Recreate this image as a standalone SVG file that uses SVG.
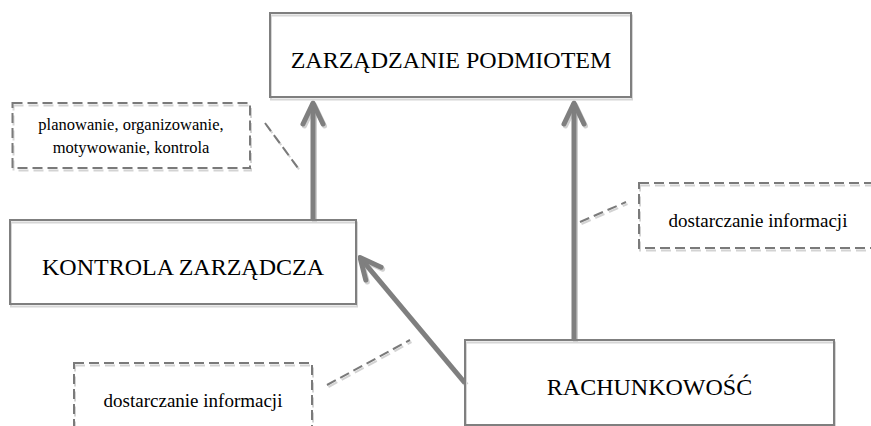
<svg xmlns="http://www.w3.org/2000/svg" width="871" height="426" viewBox="0 0 871 426">
<style>
.box{fill:none;stroke:#7f7f7f;stroke-width:2}
.boxsh{fill:none;stroke:#d6d6d6;stroke-width:2}
.note{fill:none;stroke:#7a7a7a;stroke-width:2;stroke-dasharray:10 5}
.notesh{fill:none;stroke:#d3d3d3;stroke-width:2;stroke-dasharray:10 5}
text{font-family:'Liberation Serif','Times New Roman','DejaVu Serif',serif;fill:#000;text-anchor:middle}
.lbl{font-size:24px}
.nt{font-size:19px}
.nt2{font-size:16.5px}
.arr{fill:none;stroke:#7f7f7f;stroke-width:5;marker-end:url(#ah)}
.arrsh{fill:none;stroke:#d0d0d0;stroke-width:5;marker-end:url(#ahs)}
.lead{fill:none;stroke:#7a7a7a;stroke-width:2;stroke-dasharray:10 5}
.leadsh{fill:none;stroke:#d3d3d3;stroke-width:2;stroke-dasharray:10 5}
</style>
<defs>
<marker id="ah" markerUnits="userSpaceOnUse" orient="auto" markerWidth="40" markerHeight="40" viewBox="-30 -20 40 40" refX="3" refY="0" overflow="visible">
<path d="M-18,-10 L3,0 L-18,10" fill="none" stroke="#7f7f7f" stroke-width="5" stroke-linejoin="round" stroke-linecap="round"/>
</marker>
<marker id="ahs" markerUnits="userSpaceOnUse" orient="auto" markerWidth="40" markerHeight="40" viewBox="-30 -20 40 40" refX="3" refY="0" overflow="visible">
<path d="M-18,-10 L3,0 L-18,10" fill="none" stroke="#d0d0d0" stroke-width="5" stroke-linejoin="round" stroke-linecap="round"/>
</marker>
</defs>
<rect width="871" height="426" fill="#fff"/>

<g id="connectors">
<g transform="translate(1.5,2)">
<path class="arrsh" d="M313,220 L313,103"/>
<path class="arrsh" d="M574,340 L574,103"/>
<path class="arrsh" d="M465,383 L360,257.5"/>
<path class="leadsh" d="M265,123 L298,168"/>
<path class="leadsh" d="M580,222 L626,202"/>
<path class="leadsh" d="M327,385 L410,340"/>
</g>
<path class="arr" d="M313,220 L313,103"/>
<path class="arr" d="M574,340 L574,103"/>
<path class="arr" d="M465,383 L360,257.5"/>
<path class="lead" d="M265,123 L298,168"/>
<path class="lead" d="M580,222 L626,202"/>
<path class="lead" d="M327,385 L410,340"/>
</g>

<g id="zarzadzanie">
<rect class="boxsh" x="271" y="15.5" width="361" height="84"/>
<rect class="box" x="270" y="13" width="361" height="84"/>
<text class="lbl" x="451" y="68">ZARZĄDZANIE PODMIOTEM</text>
</g>

<g id="kontrola">
<rect class="boxsh" x="11" y="222.5" width="346" height="84"/>
<rect class="box" x="10" y="220" width="346" height="84"/>
<text class="lbl" x="183" y="275">KONTROLA ZARZĄDCZA</text>
</g>

<g id="rachunkowosc">
<rect class="boxsh" x="466" y="342.5" width="369" height="85"/>
<rect class="box" x="465" y="340" width="369" height="85"/>
<text class="lbl" x="649.5" y="395">RACHUNKOWOŚĆ</text>
</g>

<g id="note-funkcje">
<rect class="notesh" x="13.5" y="105.5" width="237.5" height="65"/>
<rect class="note" x="12.5" y="103" width="237.5" height="65"/>
<text class="nt2" x="131" y="129.5">planowanie, organizowanie,</text>
<text class="nt2" x="131" y="153">motywowanie, kontrola</text>
</g>

<g id="note-info-prawa">
<rect class="notesh" x="640" y="185.5" width="238" height="65"/>
<rect class="note" x="639" y="183" width="238" height="65"/>
<text class="nt" x="758" y="227">dostarczanie informacji</text>
</g>

<g id="note-info-lewa">
<rect class="notesh" x="75" y="365.5" width="238" height="65"/>
<rect class="note" x="74" y="363" width="238" height="65"/>
<text class="nt" x="193" y="407">dostarczanie informacji</text>
</g>
</svg>
